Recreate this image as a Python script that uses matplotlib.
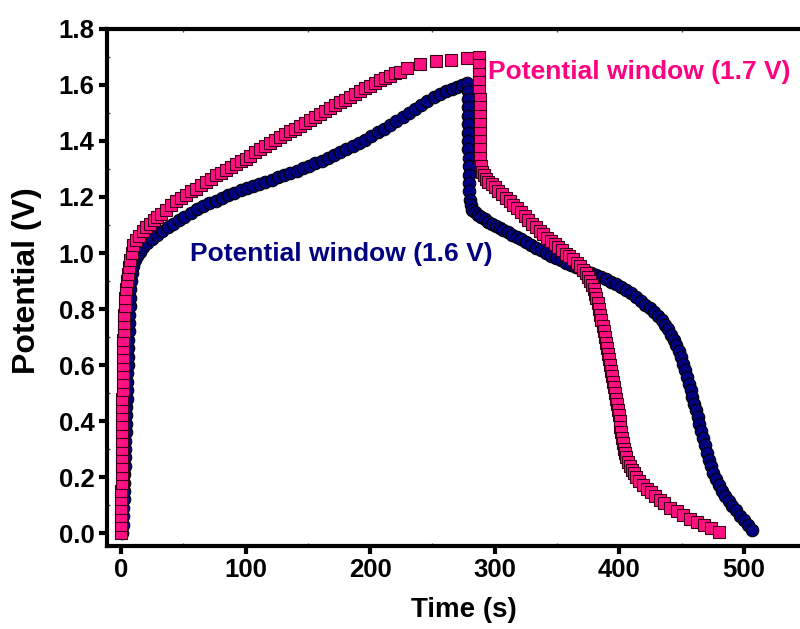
import matplotlib
matplotlib.use("Agg")
import matplotlib.pyplot as plt
from matplotlib.ticker import MultipleLocator, FormatStrFormatter

plt.rcParams['font.family'] = ['Liberation Sans', 'DejaVu Sans']
plt.rcParams['font.weight'] = 'bold'

# 1.7 V window (pink squares): charge branch, then discharge branch  (time s, potential V)
pink_charge = [
    (0.0, 0.00), (0.1, 0.03), (0.2, 0.06), (0.3, 0.09), (0.4, 0.12), (0.4, 0.15),
    (0.5, 0.18), (0.6, 0.21), (0.6, 0.24), (0.7, 0.27), (0.8, 0.30), (0.8, 0.33),
    (0.9, 0.36), (1.0, 0.39), (1.0, 0.42), (1.1, 0.45), (1.2, 0.48), (1.3, 0.51),
    (1.4, 0.54), (1.5, 0.57), (1.6, 0.60), (1.7, 0.63), (1.8, 0.66), (2.0, 0.69),
    (2.2, 0.72), (2.4, 0.75), (2.7, 0.78), (3.0, 0.81), (3.4, 0.84), (3.9, 0.87),
    (4.5, 0.90), (5.3, 0.925), (6.3, 0.95), (7.5, 0.975), (8.8, 1.00), (10.0, 1.03),
    (12.0, 1.045), (14.5, 1.06), (17.5, 1.078), (20.5, 1.092), (23.5, 1.105),
    (26.5, 1.118), (29.0, 1.13), (32, 1.14), (36, 1.155), (40, 1.17), (44, 1.185),
    (48, 1.197), (52, 1.208), (56, 1.22), (60, 1.23), (64, 1.242), (68, 1.253),
    (72, 1.265), (76, 1.277), (80, 1.287), (84, 1.297), (88, 1.307), (92, 1.317),
    (96, 1.327), (100, 1.337), (104, 1.348), (108, 1.36), (112, 1.371), (116, 1.382),
    (120, 1.393), (124, 1.404), (128, 1.414), (132, 1.424), (136, 1.434), (140, 1.444),
    (144, 1.455), (148, 1.465), (152, 1.476), (156, 1.487), (160, 1.498), (164, 1.508),
    (168, 1.518), (172, 1.528), (176, 1.538), (180, 1.548), (184, 1.558), (188, 1.568),
    (192, 1.578), (196, 1.588), (200, 1.598), (204, 1.608), (208, 1.617), (212, 1.625),
    (216, 1.633), (220, 1.641), (224, 1.648), (230, 1.660), (240, 1.675), (253, 1.684),
    (265, 1.690), (278, 1.697),
]
pink_discharge = [
    (287.6, 1.70), (287.6, 1.67), (287.7, 1.64), (287.7, 1.61), (287.7, 1.58),
    (287.8, 1.55), (287.8, 1.52), (287.8, 1.49), (287.9, 1.46), (287.9, 1.43),
    (288.0, 1.40), (288.1, 1.37), (288.3, 1.34), (288.7, 1.31), (289.5, 1.29),
    (291, 1.28), (293, 1.265), (295, 1.255), (297.5, 1.245), (300, 1.235),
    (303, 1.222), (306, 1.21), (309, 1.198), (312, 1.185), (315, 1.172), (318, 1.159),
    (321, 1.145), (324, 1.132), (327, 1.118), (330, 1.105), (333, 1.092), (336, 1.079),
    (339, 1.067), (342, 1.055), (345, 1.043), (348, 1.032), (351, 1.02), (354, 1.009),
    (357, 0.998), (360, 0.988), (363, 0.977), (366, 0.965), (368.5, 0.953), (371, 0.94),
    (373, 0.927), (375, 0.913), (376.5, 0.899), (378, 0.885), (379.5, 0.87),
    (380.5, 0.855), (381.5, 0.838), (382.5, 0.82), (383.5, 0.80), (384.5, 0.78),
    (385.5, 0.76), (386.5, 0.74), (387.5, 0.72), (388.5, 0.70), (389.5, 0.68),
    (390.5, 0.66), (391.3, 0.64), (392.1, 0.62), (392.9, 0.60), (393.7, 0.58),
    (394.5, 0.56), (395.3, 0.54), (396.0, 0.52), (396.7, 0.50), (397.4, 0.48),
    (398.1, 0.46), (398.8, 0.44), (399.5, 0.42), (400.2, 0.40), (400.9, 0.38),
    (401.6, 0.36), (402.3, 0.34), (403.0, 0.32), (403.8, 0.30), (404.7, 0.285),
    (405.7, 0.27), (407.0, 0.255), (408.5, 0.24), (410.0, 0.227), (411.5, 0.213),
    (413, 0.20), (416, 0.186), (419, 0.172), (422, 0.158), (425.5, 0.145), (429, 0.132),
    (432.5, 0.119), (436, 0.106), (441, 0.091), (446, 0.078), (451.5, 0.064),
    (457, 0.051), (462, 0.040), (467.6, 0.029), (473.5, 0.017), (479.6, 0.005),
]

# 1.6 V window (navy circles)
blue_charge = [
    (1.0, 0.00), (1.3, 0.03), (1.6, 0.06), (1.9, 0.09), (2.2, 0.12), (2.4, 0.15),
    (2.6, 0.18), (2.8, 0.21), (3.0, 0.24), (3.2, 0.27), (3.4, 0.30), (3.6, 0.33),
    (3.8, 0.36), (4.0, 0.39), (4.2, 0.42), (4.4, 0.45), (4.6, 0.48), (4.8, 0.51),
    (5.0, 0.54), (5.2, 0.57), (5.4, 0.60), (5.6, 0.63), (5.8, 0.66), (6.0, 0.69),
    (6.2, 0.72), (6.4, 0.75), (6.6, 0.78), (6.9, 0.81), (7.2, 0.84), (7.6, 0.87),
    (8.2, 0.90), (8.8, 0.93), (9.8, 0.955), (11.2, 0.975), (13.0, 0.99), (15.3, 1.005),
    (18, 1.02), (21, 1.035), (25, 1.05), (29, 1.065), (33, 1.078), (37.5, 1.092),
    (42, 1.105), (46.5, 1.118), (51, 1.13), (56, 1.143), (61, 1.156), (66, 1.167),
    (71, 1.177), (76, 1.187), (81, 1.197), (86, 1.206), (91, 1.215), (96, 1.224),
    (101, 1.232), (106, 1.24), (111, 1.248), (116, 1.255), (121, 1.262), (126, 1.27),
    (131, 1.278), (136, 1.286), (141, 1.294), (146, 1.303), (151, 1.312), (156, 1.321),
    (161, 1.33), (166, 1.34), (171, 1.35), (176, 1.36), (181, 1.37), (186, 1.381),
    (191, 1.393), (196, 1.405), (201, 1.418), (206, 1.431), (211, 1.444), (216, 1.457),
    (221, 1.47), (226, 1.484), (231, 1.499), (236, 1.514), (241, 1.529), (246, 1.543),
    (251, 1.556), (256, 1.567), (261, 1.578), (266, 1.587), (270, 1.594), (274, 1.60),
    (277.5, 1.606),
]
blue_discharge = [
    (278.5, 1.58), (278.6, 1.55), (278.7, 1.52), (278.7, 1.49), (278.8, 1.46),
    (278.8, 1.43), (278.9, 1.40), (278.9, 1.37), (279.0, 1.34), (279.0, 1.31),
    (279.1, 1.28), (279.2, 1.25), (279.4, 1.22), (279.8, 1.19), (280.6, 1.17),
    (282, 1.155), (284, 1.145), (286.5, 1.136), (289, 1.128), (292, 1.12), (295, 1.112),
    (298, 1.104), (301, 1.097), (304, 1.09), (307, 1.083), (310.5, 1.075), (314, 1.066),
    (317.5, 1.058), (321, 1.05), (325, 1.04), (329, 1.029), (333, 1.019), (337, 1.009),
    (341, 1.0), (345, 0.991), (349, 0.983), (353, 0.974), (357, 0.966), (361, 0.958),
    (365, 0.951), (369, 0.944), (373, 0.937), (377, 0.93), (381, 0.922), (385, 0.914),
    (389, 0.906), (393, 0.898), (397, 0.889), (401, 0.879), (405, 0.868), (409, 0.856),
    (413, 0.843), (417, 0.83), (421, 0.816), (424.5, 0.803), (428, 0.79), (431, 0.776),
    (434, 0.76), (436.5, 0.744), (439, 0.727), (441.5, 0.709), (443.7, 0.69),
    (445.8, 0.67), (447.8, 0.649), (449.6, 0.627), (451.3, 0.605), (452.9, 0.582),
    (454.4, 0.558), (455.9, 0.534), (457.3, 0.51), (458.7, 0.486), (460.1, 0.462),
    (461.5, 0.438), (462.9, 0.414), (464.3, 0.39), (465.7, 0.366), (467.1, 0.34),
    (468.5, 0.313), (470.0, 0.287), (471.6, 0.262), (473.3, 0.238), (475.2, 0.215),
    (477.3, 0.193), (479.6, 0.172), (482.1, 0.152), (484.8, 0.133), (487.7, 0.115),
    (490.7, 0.098), (493.8, 0.082), (497.0, 0.062), (500.2, 0.045), (503.3, 0.028),
    (506.4, 0.01),
]

pink_label = "Potential window (1.7 V)"
blue_label = "Potential window (1.6 V)"
pink = "#FF1080"
navy = "#000080"

fig = plt.figure(figsize=(8, 6.29), dpi=100)
ax = fig.add_axes([0.134, 0.132, 0.866, 0.822])

for pts in (blue_charge, blue_discharge):
    t, v = zip(*pts)
    ax.plot(t, v, ls='none', marker='o', ms=9, mfc=navy, mec='black', mew=0.8)
for pts in (pink_charge, pink_discharge):
    t, v = zip(*pts)
    ax.plot(t, v, ls='none', marker='s', ms=8, mfc=pink, mec='#3a0018', mew=0.8)

ax.text(295, 1.645, pink_label, color="#FF0080", fontsize=19, fontweight='bold',
        va='center', ha='left')
ax.text(55.5, 0.995, blue_label, color=navy, fontsize=19, fontweight='bold',
        va='center', ha='left')

ax.set_xlim(-11, 545)
ax.set_ylim(-0.046, 1.8)

ax.xaxis.set_major_locator(MultipleLocator(100))
ax.xaxis.set_minor_locator(MultipleLocator(50))
ax.yaxis.set_major_locator(MultipleLocator(0.2))
ax.yaxis.set_minor_locator(MultipleLocator(0.1))
ax.yaxis.set_major_formatter(FormatStrFormatter('%.1f'))

for s in ('left', 'bottom', 'top'):
    ax.spines[s].set_linewidth(3)
ax.spines['right'].set_visible(False)

ax.tick_params(which='major', direction='out', length=6, width=3, labelsize=18.5, pad=3)
ax.tick_params(which='minor', direction='in', length=2, width=1, color='#555555')
ax.tick_params(axis='x', which='both', top=True)
ax.tick_params(axis='x', which='major', top=False)
for lab in ax.get_xticklabels() + ax.get_yticklabels():
    lab.set_fontweight('bold')

fig.text(464 / 800, 1 - 610 / 629, "Time (s)", fontsize=20, fontweight='bold',
         ha='center', va='center')
fig.text(27 / 800, 1 - 281 / 629, "Potential (V)", fontsize=23, fontweight='bold',
         ha='center', va='center', rotation=90)

plt.savefig("out.png", dpi=100)
